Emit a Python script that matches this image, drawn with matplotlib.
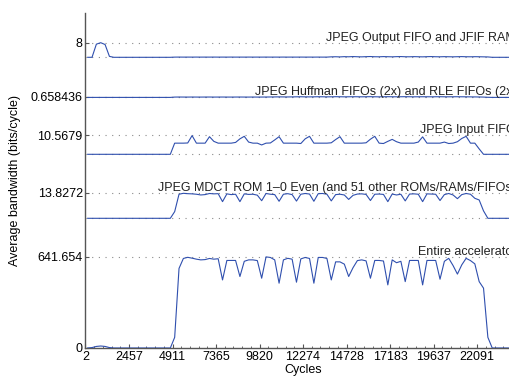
import matplotlib
matplotlib.use('Agg')
import matplotlib.pyplot as plt
import numpy as np
from matplotlib.ticker import AutoMinorLocator

plt.rcParams['font.family'] = ['Liberation Sans', 'DejaVu Sans']
plt.rcParams['font.size'] = 9

# Data: average bandwidth per 245-cycle bin (bits/cycle)
n_bins = 100
bin_width = 245.43
cycles = 2 + (np.arange(n_bins) + 0.5) * bin_width
xtick_vals = [2, 2457, 4911, 7365, 9820, 12274, 14728, 17183, 19637, 22091]

entire = [0, 3, 11, 14, 11, 3] + [0] * 14 + [
    75, 560, 630, 638, 632, 625, 620, 622, 630, 625, 628, 479, 616, 616, 616,
    503, 610, 620, 620, 615, 491, 641, 637, 620, 456, 620, 631, 625, 463, 627,
    637, 630, 456, 637, 637, 630, 479, 606, 606, 590, 503, 565, 615, 620, 613,
    491, 616, 616, 612, 444, 620, 600, 610, 467, 616, 616, 616, 444, 616, 616,
    616, 484, 610, 631, 580, 520, 585, 631, 615, 592, 467, 421, 75] + [0] * 7

mdct = [0] * 20 + [
    3.6, 13.0, 13.5, 13.3, 13.2, 13.0, 12.6, 12.8, 13.4, 13.2, 13.3, 9.0, 13.2,
    12.8, 13.0, 9.0, 13.2, 12.9, 13.0, 12.5, 9.5, 13.4, 13.0, 12.8, 9.2, 13.0,
    13.3, 12.8, 9.3, 13.0, 13.4, 13.1, 9.2, 13.3, 13.4, 13.0, 9.4, 12.8, 13.0,
    12.6, 10.2, 12.4, 13.1, 13.2, 12.9, 9.6, 13.0, 13.1, 12.9, 9.0, 13.1, 12.6,
    13.0, 9.4, 13.1, 13.2, 13.0, 9.0, 13.2, 13.1, 13.0, 9.6, 12.8, 13.4, 12.6,
    10.6, 12.8, 13.4, 13.0, 10.8, 9.9, 4.0] + [0] * 8

input_fifo = [0] * 20 + [
    6.2, 6.2, 6.2, 6.3, 10.4, 6.2, 6.2, 6.2, 9.8, 7.2, 6.2, 6.2, 6.2, 6.2, 6.6,
    8.6, 10.0, 6.8, 6.2, 6.2, 5.2, 6.2, 6.3, 8.0, 9.8, 6.2, 6.2, 6.2, 6.2, 6.0,
    8.6, 10.0, 6.2, 6.2, 6.2, 6.2, 6.4, 8.2, 9.8, 6.2, 6.2, 6.2, 6.2, 6.2, 6.4,
    8.4, 10.0, 6.2, 6.0, 7.2, 8.3, 7.0, 6.2, 6.2, 6.2, 6.2, 6.8, 9.7, 6.2, 6.2,
    6.2, 6.2, 6.8, 6.0, 6.2, 7.0, 8.8, 10.0, 6.2, 6.2, 3.0] + [0] * 9

huffman = [0] * 20 + [
    0.30, 0.35, 0.32, 0.30, 0.34, 0.31, 0.30, 0.33, 0.35, 0.30, 0.32, 0.34,
    0.31, 0.30, 0.33, 0.35, 0.32, 0.30, 0.34, 0.31, 0.33, 0.36, 0.40, 0.45,
    0.50, 0.46, 0.42, 0.48, 0.55, 0.60, 0.52, 0.48, 0.55, 0.62, 0.58, 0.50,
    0.56, 0.66, 0.60, 0.54, 0.58, 0.64, 0.60, 0.55, 0.62, 0.66, 0.58, 0.52,
    0.60, 0.65, 0.60, 0.56, 0.62, 0.66, 0.60, 0.55, 0.58, 0.62, 0.60, 0.56,
    0.60, 0.64, 0.58, 0.55, 0.60, 0.62, 0.58, 0.55, 0.50, 0.45, 0.40, 0.30,
    0.10] + [0] * 7

jpeg_out = [0, 0, 7.2, 8.0, 7.0, 0.5] + [0] * 14 + [
    0.10, 0.12, 0.10, 0.11, 0.10, 0.12, 0.10, 0.11, 0.10, 0.12, 0.10, 0.11,
    0.10, 0.12, 0.10, 0.11, 0.10, 0.12, 0.10, 0.11, 0.10, 0.12, 0.10, 0.11,
    0.10, 0.12, 0.10, 0.11, 0.10, 0.12, 0.10, 0.11, 0.10, 0.12, 0.10, 0.11,
    0.25, 0.30, 0.22, 0.35, 0.28, 0.40, 0.30, 0.25, 0.35, 0.42, 0.30, 0.28,
    0.38, 0.32, 0.26, 0.35, 0.40, 0.30, 0.28, 0.36, 0.30, 0.25, 0.34, 0.40,
    0.30, 0.28, 0.35, 0.30, 0.26, 0.32, 0.38, 0.30, 0.28, 0.33, 0.30, 0.25,
    0.20] + [0] * 7

labels = ['JPEG Output FIFO and JFIF RAM',
          'JPEG Huffman FIFOs (2x) and RLE FIFOs (2x)',
          'JPEG Input FIFO',
          'JPEG MDCT ROM 1\u20130 Even (and 51 other ROMs/RAMs/FIFOs)',
          'Entire accelerator']
series = [jpeg_out, huffman, input_fifo, mdct, entire]
peaks = [8, 0.658436, 10.5679, 13.8272, 641.654]
peak_labels = ['8', '0.658436', '10.5679', '13.8272', '641.654']

# Stacking layout (baseline and top of each trace in axis units)
base = [290.7, 250.6, 193.7, 129.7, 0.0]
top = [305.3, 251.3, 212.7, 155.3, 91.2]

fig = plt.figure(figsize=(5.1, 3.85), dpi=100)
ax = fig.add_axes([85.5 / 510, 1 - 348 / 385, 435 / 510, 335 / 385])

line_col = '#2f4fae'
grid_col = '#8a8a8a'

for s, pk, b, t, lab in zip(series, peaks, base, top, labels):
    y = b + np.asarray(s, dtype=float) / pk * (t - b)
    ax.axhline(t, color=grid_col, lw=0.8, ls=(0, (1, 5)), zorder=1)
    if b > 0:
        ax.axhline(b, color=grid_col, lw=0.8, ls=(0, (1, 5)), zorder=1)
    ax.plot(cycles, y, color=line_col, lw=0.8, zorder=3)
    ax.annotate(lab, xy=(0.99, t), xycoords=('axes fraction', 'data'),
                xytext=(0, 1.5), textcoords='offset points',
                ha='right', va='baseline', fontsize=9, color='#222222')

ax.set_xlim(2, 24545)
ax.set_ylim(0, 335)
ax.set_xticks(xtick_vals)
ax.set_xticklabels([str(v) for v in xtick_vals])
ax.xaxis.set_minor_locator(AutoMinorLocator(5))
ax.set_yticks([0] + top)
ax.set_yticklabels(['0'] + peak_labels)

for side in ['top', 'right']:
    ax.spines[side].set_visible(False)
for side in ['left', 'bottom']:
    ax.spines[side].set_color('#555555')
    ax.spines[side].set_linewidth(1.0)

ax.tick_params(axis='both', which='major', direction='in', length=3,
               width=0.8, color='#555555', labelsize=9, pad=2)
ax.tick_params(axis='x', which='minor', direction='in', length=1.5,
               width=0.6, color='#555555')

ax.set_xlabel('Cycles', fontsize=9, labelpad=1)
ax.set_ylabel('Average bandwidth (bits/cycle)', fontsize=9, labelpad=7)

fig.savefig('out.png', dpi=100)
